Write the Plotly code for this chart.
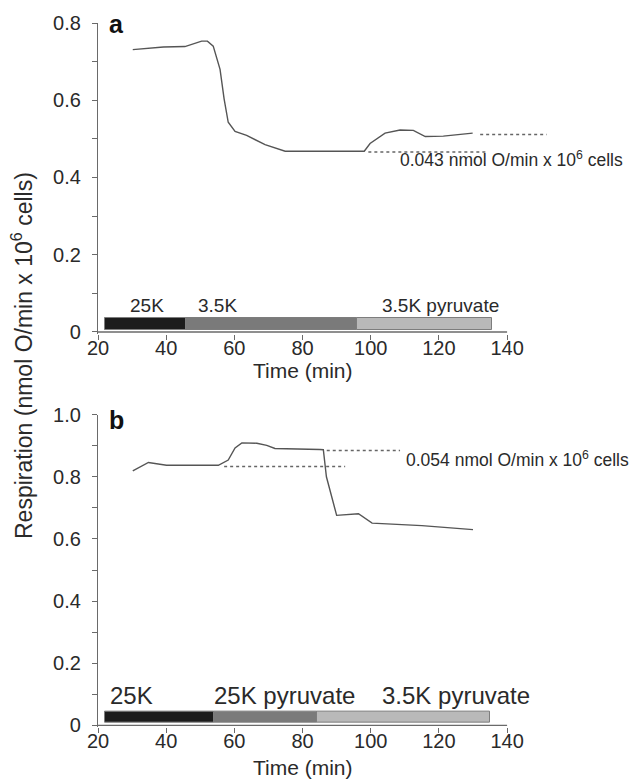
import plotly.graph_objects as go

# ---------------- data ----------------
top_t = [30.2, 39.2, 45.5, 48.0, 50.4, 52.1, 53.8, 55.8, 57.0, 58.2, 60.2, 63.6, 69.0, 74.9,
         98.1, 99.8, 104.2, 108.6, 112.5, 116.0, 121.3, 129.9]
top_v = [0.731, 0.738, 0.739, 0.746, 0.753, 0.753, 0.740, 0.680, 0.603, 0.543, 0.519, 0.509, 0.485, 0.468,
         0.468, 0.488, 0.515, 0.523, 0.522, 0.506, 0.507, 0.515]

bot_t = [30.2, 34.8, 40.1, 55.3, 58.2, 60.2, 62.2, 66.6, 69.5, 71.9, 85.1, 86.1, 87.0, 90.0,
         96.4, 99.3, 100.4, 115.0, 130.0]
bot_v = [0.819, 0.846, 0.837, 0.837, 0.854, 0.893, 0.909, 0.908, 0.901, 0.891, 0.888, 0.887, 0.800, 0.676,
         0.681, 0.660, 0.651, 0.643, 0.630]

# dotted reference levels: (t_start, t_end, value)
top_dots = [(99.3, 134.5, 0.466), (132.1, 151.6, 0.511)]
bot_dots = [(57.0, 92.5, 0.833), (87.1, 108.6, 0.885)]

# condition bars
top_seg_start = [22.0, 45.8, 96.0]
top_seg_end = [45.8, 96.0, 135.5]
top_seg_labels = ["25K", "3.5K", "3.5K pyruvate"]
top_label_t = [28.8, 48.8, 102.7]

bot_seg_start = [22.0, 54.0, 84.3]
bot_seg_end = [54.0, 84.3, 135.0]
bot_seg_labels = ["25K", "25K pyruvate", "3.5K pyruvate"]
bot_label_t = [22.8, 53.4, 102.6]

seg_colors = ["#1c1c1c", "#7a7a7a", "#b9b9b9"]

x_ticks = [20, 40, 60, 80, 100, 120, 140]
top_yticks = [0, 0.2, 0.4, 0.6, 0.8]
top_yticktext = ["0", "0.2", "0.4", "0.6", "0.8"]
bot_yticks = [0, 0.2, 0.4, 0.6, 0.8, 1.0]
bot_yticktext = ["0", "0.2", "0.4", "0.6", "0.8", "1.0"]

FONT = "Liberation Sans, Arial, sans-serif"
AX = "#6a6a6a"
LINE = "#555555"
TXT = "#2a2a2a"

fig = go.Figure()

def panel(xa, ya, t, v, dots, s0, s1, bar_c, bar_w):
    # axis baseline from first to last tick
    fig.add_trace(go.Scatter(x=[x_ticks[0], x_ticks[-1]], y=[0, 0], mode="lines",
                             line=dict(color=AX, width=1.3), xaxis=xa, yaxis=ya,
                             hoverinfo="skip", showlegend=False))
    # condition bars
    fig.add_trace(go.Bar(y=[bar_c] * len(s0), base=s0,
                         x=[b - a for a, b in zip(s0, s1)], orientation="h",
                         width=[bar_w] * len(s0),
                         marker=dict(color=seg_colors, line=dict(color="#7d7d7d", width=1)),
                         xaxis=xa, yaxis=ya, showlegend=False, hoverinfo="skip"))
    for a, b, lvl in dots:
        fig.add_trace(go.Scatter(x=[a, b], y=[lvl, lvl], mode="lines",
                                 line=dict(color="#666666", width=1.5, dash="dot"),
                                 xaxis=xa, yaxis=ya, showlegend=False, hoverinfo="skip"))
    fig.add_trace(go.Scatter(x=t, y=v, mode="lines", line=dict(color=LINE, width=1.4),
                             xaxis=xa, yaxis=ya, showlegend=False))

panel("x", "y", top_t, top_v, top_dots, top_seg_start, top_seg_end, 0.0205, 0.029)
panel("x2", "y2", bot_t, bot_v, bot_dots, bot_seg_start, bot_seg_end, 0.0255, 0.035)

xcommon = dict(range=[20, 152], tickvals=x_ticks, ticks="", showline=False, zeroline=False,
               showgrid=False, tickfont=dict(family=FONT, size=20, color=TXT), ticklabelstandoff=0,
               minor=dict(tickvals=x_ticks, ticks="outside", ticklen=5, tickcolor=AX, tickwidth=1.2,
                          showgrid=False))
ycommon = dict(ticks="outside", ticklen=5, tickcolor=AX, tickwidth=1.2, showline=True,
               linecolor=AX, linewidth=1.3, zeroline=False, showgrid=False,
               tickfont=dict(family=FONT, size=20, color=TXT), ticklabelstandoff=7,
               minor=dict(dtick=0.1, tick0=0, ticks="outside", ticklen=5, tickcolor=AX, tickwidth=1.2))

fig.update_layout(
    width=629, height=780, plot_bgcolor="white", paper_bgcolor="white",
    margin=dict(l=98, r=81, t=16, b=53),
    bargap=0, barmode="overlay",
    xaxis=dict(domain=[0, 1], anchor="y", **xcommon),
    yaxis=dict(domain=[0.5589, 1.0], anchor="x", range=[-0.004, 0.8],
               tickvals=top_yticks, ticktext=top_yticktext, **ycommon),
    xaxis2=dict(domain=[0, 1], anchor="y2", **xcommon),
    yaxis2=dict(domain=[0, 0.4437], anchor="x2", range=[-0.005, 1.0],
                tickvals=bot_yticks, ticktext=bot_yticktext, **ycommon),
)

ann = []
# bar labels
for lab, tt in zip(top_seg_labels, top_label_t):
    ann.append(dict(text=lab, x=tt, y=0.069, xref="x", yref="y", xanchor="left", yanchor="middle",
                    showarrow=False, font=dict(family=FONT, size=19, color=TXT)))
for lab, tt in zip(bot_seg_labels, bot_label_t):
    ann.append(dict(text=lab, x=tt, y=0.097, xref="x2", yref="y2", xanchor="left", yanchor="middle",
                    showarrow=False, font=dict(family=FONT, size=24, color=TXT)))
# rate annotations
ann.append(dict(text="0.043 nmol O/min x 10<sup>6</sup> cells", x=108.0, y=0.448, xref="x", yref="y",
                xanchor="left", yanchor="middle", showarrow=False,
                font=dict(family=FONT, size=17.5, color=TXT)))
ann.append(dict(text="0.054 nmol O/min x 10<sup>6</sup> cells", x=109.8, y=0.858, xref="x2", yref="y2",
                xanchor="left", yanchor="middle", showarrow=False,
                font=dict(family=FONT, size=17.5, color=TXT)))
# panel letters
ann.append(dict(text="<b>a</b>", x=22.6, y=0.8, xref="x", yref="y", xanchor="left", yanchor="top",
                showarrow=False, font=dict(family=FONT, size=25, color="#111"), yshift=15))
ann.append(dict(text="<b>b</b>", x=22.6, y=1.0, xref="x2", yref="y2", xanchor="left", yanchor="top",
                showarrow=False, font=dict(family=FONT, size=25, color="#111"), yshift=11))
# x titles
ann.append(dict(text="Time (min)", x=80, y=0.5589, xref="x", yref="paper", xanchor="center",
                yanchor="top", yshift=-23, showarrow=False, font=dict(family=FONT, size=21, color=TXT)))
ann.append(dict(text="Time (min)", x=80, y=0, xref="x2", yref="paper", xanchor="center",
                yanchor="top", yshift=-27, showarrow=False, font=dict(family=FONT, size=21, color=TXT)))
# y title
ann.append(dict(text="Respiration (nmol O/min x 10<sup>6</sup> cells)", x=0, y=0.527, xref="paper",
                yref="paper", xanchor="center", yanchor="middle", xshift=-76, textangle=-90,
                showarrow=False, font=dict(family=FONT, size=23, color=TXT)))
fig.update_layout(annotations=ann)

fig.write_html("out.html")
